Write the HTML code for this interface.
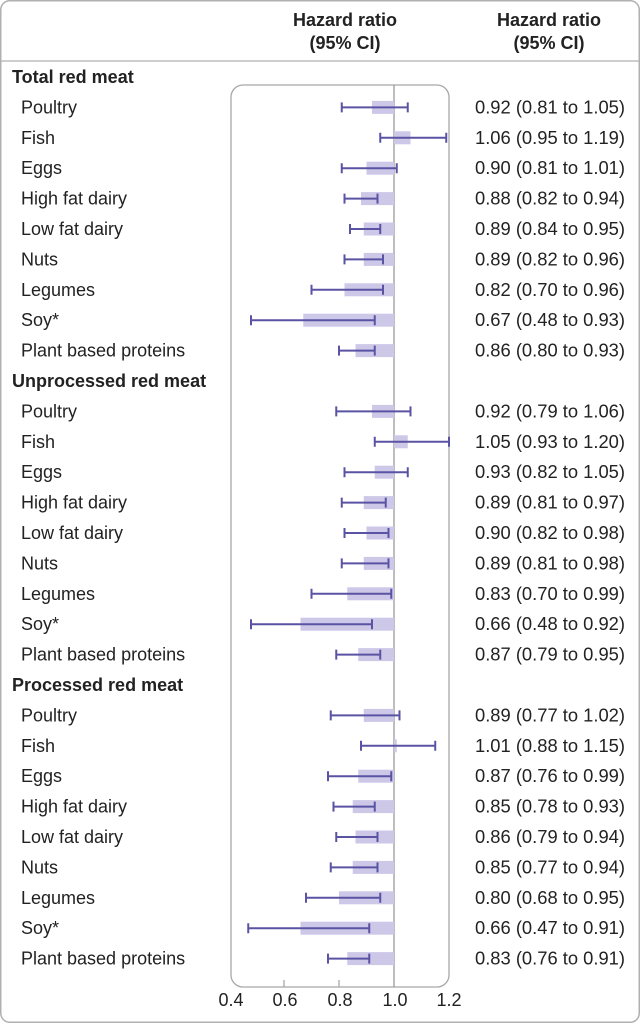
<!DOCTYPE html>
<html><head><meta charset="utf-8"><style>
html,body{margin:0;padding:0;background:#fff}
svg{display:block}
text{font-family:"Liberation Sans",sans-serif;font-size:18px;fill:#222}
.b{font-weight:bold}
</style></head><body>
<svg width="640" height="1024" viewBox="0 0 640 1024">
<rect x="0.75" y="0.75" width="638.5" height="1021.5" rx="9" fill="#fff" stroke="#b0b0b0" stroke-width="1.5"/>
<line x1="0" y1="61" x2="640" y2="61" stroke="#b0b0b0" stroke-width="1.3"/>
<text class="b" x="345" y="26" text-anchor="middle">Hazard ratio</text>
<text class="b" x="345" y="49" text-anchor="middle">(95% CI)</text>
<text class="b" x="549" y="26" text-anchor="middle">Hazard ratio</text>
<text class="b" x="549" y="49" text-anchor="middle">(95% CI)</text>
<rect x="231" y="85" width="218" height="902" rx="12" fill="none" stroke="#a8a8a8" stroke-width="1.3"/>
<line x1="394" y1="85" x2="394" y2="987" stroke="#9a9a9a" stroke-width="1.3"/>
<g stroke="#a8a8a8" stroke-width="1.3"><line x1="284" y1="980" x2="284" y2="987"/><line x1="339" y1="980" x2="339" y2="987"/></g>
<g text-anchor="middle"><text x="231" y="1006">0.4</text><text x="285" y="1006">0.6</text><text x="340" y="1006">0.8</text><text x="395" y="1006">1.0</text><text x="449" y="1006">1.2</text></g>
<text class="b" x="12" y="83">Total red meat</text>
<text class="b" x="12" y="387">Unprocessed red meat</text>
<text class="b" x="12" y="691">Processed red meat</text>
<defs><style>.bar{fill:#cdc8e8}.ci{stroke:#5a53a3;stroke-width:2;fill:none}</style></defs>

<!-- Total -->
<g transform="translate(0,107.4)"><rect class="bar" x="372" y="-6.5" width="22" height="13"/><path class="ci" d="M341.75 0H407.75M341.75 -5V5M407.75 -5V5"/><text x="21" y="6">Poultry</text><text x="475" y="6" textLength="150" lengthAdjust="spacingAndGlyphs">0.92 (0.81 to 1.05)</text></g>
<g transform="translate(0,137.8)"><rect class="bar" x="394" y="-6.5" width="16.5" height="13"/><path class="ci" d="M380.25 0H446.25M380.25 -5V5M446.25 -5V5"/><text x="21" y="6">Fish</text><text x="475" y="6" textLength="150" lengthAdjust="spacingAndGlyphs">1.06 (0.95 to 1.19)</text></g>
<g transform="translate(0,168.2)"><rect class="bar" x="366.5" y="-6.5" width="27.5" height="13"/><path class="ci" d="M341.75 0H396.75M341.75 -5V5M396.75 -5V5"/><text x="21" y="6">Eggs</text><text x="475" y="6" textLength="150" lengthAdjust="spacingAndGlyphs">0.90 (0.81 to 1.01)</text></g>
<g transform="translate(0,198.6)"><rect class="bar" x="361" y="-6.5" width="33" height="13"/><path class="ci" d="M344.5 0H377.5M344.5 -5V5M377.5 -5V5"/><text x="21" y="6">High fat dairy</text><text x="475" y="6" textLength="150" lengthAdjust="spacingAndGlyphs">0.88 (0.82 to 0.94)</text></g>
<g transform="translate(0,229)"><rect class="bar" x="363.75" y="-6.5" width="30.25" height="13"/><path class="ci" d="M350 0H380.25M350 -5V5M380.25 -5V5"/><text x="21" y="6">Low fat dairy</text><text x="475" y="6" textLength="150" lengthAdjust="spacingAndGlyphs">0.89 (0.84 to 0.95)</text></g>
<g transform="translate(0,259.4)"><rect class="bar" x="363.75" y="-6.5" width="30.25" height="13"/><path class="ci" d="M344.5 0H383M344.5 -5V5M383 -5V5"/><text x="21" y="6">Nuts</text><text x="475" y="6" textLength="150" lengthAdjust="spacingAndGlyphs">0.89 (0.82 to 0.96)</text></g>
<g transform="translate(0,289.8)"><rect class="bar" x="344.5" y="-6.5" width="49.5" height="13"/><path class="ci" d="M311.5 0H383M311.5 -5V5M383 -5V5"/><text x="21" y="6">Legumes</text><text x="475" y="6" textLength="150" lengthAdjust="spacingAndGlyphs">0.82 (0.70 to 0.96)</text></g>
<g transform="translate(0,320.2)"><rect class="bar" x="303.25" y="-6.5" width="90.75" height="13"/><path class="ci" d="M251 0H374.75M251 -5V5M374.75 -5V5"/><text x="21" y="6">Soy*</text><text x="475" y="6" textLength="150" lengthAdjust="spacingAndGlyphs">0.67 (0.48 to 0.93)</text></g>
<g transform="translate(0,350.6)"><rect class="bar" x="355.5" y="-6.5" width="38.5" height="13"/><path class="ci" d="M339 0H374.75M339 -5V5M374.75 -5V5"/><text x="21" y="6">Plant based proteins</text><text x="475" y="6" textLength="150" lengthAdjust="spacingAndGlyphs">0.86 (0.80 to 0.93)</text></g>

<!-- Unprocessed -->
<g transform="translate(0,411.4)"><rect class="bar" x="372" y="-6.5" width="22" height="13"/><path class="ci" d="M336.25 0H410.5M336.25 -5V5M410.5 -5V5"/><text x="21" y="6">Poultry</text><text x="475" y="6" textLength="150" lengthAdjust="spacingAndGlyphs">0.92 (0.79 to 1.06)</text></g>
<g transform="translate(0,441.8)"><rect class="bar" x="394" y="-6.5" width="13.75" height="13"/><path class="ci" d="M374.75 0H449M374.75 -5V5M449 -5V5"/><text x="21" y="6">Fish</text><text x="475" y="6" textLength="150" lengthAdjust="spacingAndGlyphs">1.05 (0.93 to 1.20)</text></g>
<g transform="translate(0,472.2)"><rect class="bar" x="374.75" y="-6.5" width="19.25" height="13"/><path class="ci" d="M344.5 0H407.75M344.5 -5V5M407.75 -5V5"/><text x="21" y="6">Eggs</text><text x="475" y="6" textLength="150" lengthAdjust="spacingAndGlyphs">0.93 (0.82 to 1.05)</text></g>
<g transform="translate(0,502.6)"><rect class="bar" x="363.75" y="-6.5" width="30.25" height="13"/><path class="ci" d="M341.75 0H385.75M341.75 -5V5M385.75 -5V5"/><text x="21" y="6">High fat dairy</text><text x="475" y="6" textLength="150" lengthAdjust="spacingAndGlyphs">0.89 (0.81 to 0.97)</text></g>
<g transform="translate(0,533)"><rect class="bar" x="366.5" y="-6.5" width="27.5" height="13"/><path class="ci" d="M344.5 0H388.5M344.5 -5V5M388.5 -5V5"/><text x="21" y="6">Low fat dairy</text><text x="475" y="6" textLength="150" lengthAdjust="spacingAndGlyphs">0.90 (0.82 to 0.98)</text></g>
<g transform="translate(0,563.4)"><rect class="bar" x="363.75" y="-6.5" width="30.25" height="13"/><path class="ci" d="M341.75 0H388.5M341.75 -5V5M388.5 -5V5"/><text x="21" y="6">Nuts</text><text x="475" y="6" textLength="150" lengthAdjust="spacingAndGlyphs">0.89 (0.81 to 0.98)</text></g>
<g transform="translate(0,593.8)"><rect class="bar" x="347.25" y="-6.5" width="46.75" height="13"/><path class="ci" d="M311.5 0H391.25M311.5 -5V5M391.25 -5V5"/><text x="21" y="6">Legumes</text><text x="475" y="6" textLength="150" lengthAdjust="spacingAndGlyphs">0.83 (0.70 to 0.99)</text></g>
<g transform="translate(0,624.2)"><rect class="bar" x="300.5" y="-6.5" width="93.5" height="13"/><path class="ci" d="M251 0H372M251 -5V5M372 -5V5"/><text x="21" y="6">Soy*</text><text x="475" y="6" textLength="150" lengthAdjust="spacingAndGlyphs">0.66 (0.48 to 0.92)</text></g>
<g transform="translate(0,654.6)"><rect class="bar" x="358.25" y="-6.5" width="35.75" height="13"/><path class="ci" d="M336.25 0H380.25M336.25 -5V5M380.25 -5V5"/><text x="21" y="6">Plant based proteins</text><text x="475" y="6" textLength="150" lengthAdjust="spacingAndGlyphs">0.87 (0.79 to 0.95)</text></g>

<!-- Processed -->
<g transform="translate(0,715.4)"><rect class="bar" x="363.75" y="-6.5" width="30.25" height="13"/><path class="ci" d="M330.75 0H399.5M330.75 -5V5M399.5 -5V5"/><text x="21" y="6">Poultry</text><text x="475" y="6" textLength="150" lengthAdjust="spacingAndGlyphs">0.89 (0.77 to 1.02)</text></g>
<g transform="translate(0,745.8)"><rect class="bar" x="394" y="-6.5" width="2.75" height="13"/><path class="ci" d="M361 0H435.25M361 -5V5M435.25 -5V5"/><text x="21" y="6">Fish</text><text x="475" y="6" textLength="150" lengthAdjust="spacingAndGlyphs">1.01 (0.88 to 1.15)</text></g>
<g transform="translate(0,776.2)"><rect class="bar" x="358.25" y="-6.5" width="35.75" height="13"/><path class="ci" d="M328 0H391.25M328 -5V5M391.25 -5V5"/><text x="21" y="6">Eggs</text><text x="475" y="6" textLength="150" lengthAdjust="spacingAndGlyphs">0.87 (0.76 to 0.99)</text></g>
<g transform="translate(0,806.6)"><rect class="bar" x="352.75" y="-6.5" width="41.25" height="13"/><path class="ci" d="M333.5 0H374.75M333.5 -5V5M374.75 -5V5"/><text x="21" y="6">High fat dairy</text><text x="475" y="6" textLength="150" lengthAdjust="spacingAndGlyphs">0.85 (0.78 to 0.93)</text></g>
<g transform="translate(0,837)"><rect class="bar" x="355.5" y="-6.5" width="38.5" height="13"/><path class="ci" d="M336.25 0H377.5M336.25 -5V5M377.5 -5V5"/><text x="21" y="6">Low fat dairy</text><text x="475" y="6" textLength="150" lengthAdjust="spacingAndGlyphs">0.86 (0.79 to 0.94)</text></g>
<g transform="translate(0,867.4)"><rect class="bar" x="352.75" y="-6.5" width="41.25" height="13"/><path class="ci" d="M330.75 0H377.5M330.75 -5V5M377.5 -5V5"/><text x="21" y="6">Nuts</text><text x="475" y="6" textLength="150" lengthAdjust="spacingAndGlyphs">0.85 (0.77 to 0.94)</text></g>
<g transform="translate(0,897.8)"><rect class="bar" x="339" y="-6.5" width="55" height="13"/><path class="ci" d="M306 0H380.25M306 -5V5M380.25 -5V5"/><text x="21" y="6">Legumes</text><text x="475" y="6" textLength="150" lengthAdjust="spacingAndGlyphs">0.80 (0.68 to 0.95)</text></g>
<g transform="translate(0,928.2)"><rect class="bar" x="300.5" y="-6.5" width="93.5" height="13"/><path class="ci" d="M248.25 0H369.25M248.25 -5V5M369.25 -5V5"/><text x="21" y="6">Soy*</text><text x="475" y="6" textLength="150" lengthAdjust="spacingAndGlyphs">0.66 (0.47 to 0.91)</text></g>
<g transform="translate(0,958.6)"><rect class="bar" x="347.25" y="-6.5" width="46.75" height="13"/><path class="ci" d="M328 0H369.25M328 -5V5M369.25 -5V5"/><text x="21" y="6">Plant based proteins</text><text x="475" y="6" textLength="150" lengthAdjust="spacingAndGlyphs">0.83 (0.76 to 0.91)</text></g>
</svg>
</body></html>
